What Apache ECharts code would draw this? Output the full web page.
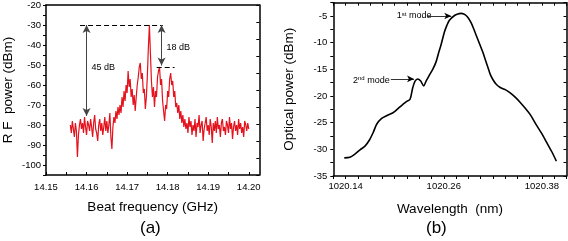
<!DOCTYPE html>
<html>
<head>
<meta charset="utf-8">
<script src="https://cdn.jsdelivr.net/npm/echarts@6/dist/echarts.min.js"></script>
<style>
  html, body { margin: 0; padding: 0; background: #fff; }
  #main { width: 568px; height: 241px; }
</style>
</head>
<body>
<div id="main"></div>
<script>
// (a) RF beat spectrum, one sample every 0.25 MHz starting at 14.156 GHz
const rfFreqStart = 14.156;
const rfFreqStep = 0.00025;
const rfPower = [
  -80, -84, -78, -82, -86, -79, -83, -96, -85, -80, -77,
  -82, -79, -84, -76, -81, -85, -78, -80, -83, -77,
  -81, -86, -79, -75, -82, -84, -88, -80, -77, -83,
  -79, -85, -81, -76, -83, -78, -84, -80, -74, -86,
  -92, -81, -76, -79, -73, -77, -71, -75, -70, -74,
  -66, -71, -63, -68, -60, -64, -53, -61, -57, -66,
  -62, -70, -65, -73, -66, -60, -56, -51, -49, -57,
  -54, -64, -62, -72, -66, -55, -41, -30, -44, -58,
  -66, -61, -71, -63, -66, -56, -53, -51, -60, -57,
  -68, -73, -78, -70, -72, -63, -66, -57, -54, -60,
  -58, -66, -63, -71, -69, -74, -70, -77, -73, -79, -75, -81,
  -77, -82, -79, -84, -76, -81, -78, -85, -80, -83,
  -77, -86, -79, -81, -75, -84, -80, -78, -88, -82,
  -79, -76, -83, -80, -85, -77, -81, -89, -79, -83,
  -78, -84, -76, -82, -80, -86, -79, -77, -83, -81,
  -85, -78, -80, -84, -76, -82, -79, -87, -81, -78,
  -83, -80, -85, -77, -82, -79, -84, -81, -86, -78,
  -80, -83, -79, -82
];
const rfFreqLabels = [14.15, 14.16, 14.17, 14.18, 14.19, 14.20];
const rfFreqTicks = [14.15, 14.155, 14.16, 14.165, 14.17, 14.175, 14.18, 14.185, 14.19, 14.195, 14.20];
const rfPowerLabels = [-100, -90, -80, -70, -60, -50, -40, -30, -20];
const rfPowerTicks = [-105, -100, -95, -90, -85, -80, -75, -70, -65, -60, -55, -50, -45, -40, -35, -30, -25, -20];

// (b) optical spectrum
const optWavelength = [
  1020.1384, 1020.1453, 1020.1514, 1020.1576, 1020.1637, 1020.169, 1020.1739, 1020.178, 1020.1841, 1020.1914,
  1020.1984, 1020.2037, 1020.2098, 1020.2147, 1020.2188, 1020.222, 1020.2249, 1020.2282, 1020.2318, 1020.2355,
  1020.2384, 1020.2424, 1020.2465, 1020.2506, 1020.2539, 1020.2567, 1020.2608, 1020.2637, 1020.2669, 1020.2731,
  1020.2771, 1020.2812, 1020.2845, 1020.2873, 1020.2906, 1020.2935, 1020.2963, 1020.2996, 1020.3037, 1020.3078,
  1020.311, 1020.3139, 1020.3167, 1020.32, 1020.3241, 1020.329, 1020.3351, 1020.3412, 1020.3473, 1020.3535,
  1020.3596, 1020.3657, 1020.3731, 1020.38, 1020.3861, 1020.3922, 1020.3976
];
const optPower = [
  -31.6, -31.5, -30.9, -30.1, -29.4, -28.3, -26.8, -25.3, -24.2, -23.6,
  -23.1, -22.4, -21.6, -21.0, -20.6, -18.5, -17.2, -16.8, -17.2, -18.1,
  -17.2, -16.1, -15.0, -13.6, -11.8, -10.4, -8.0, -6.8, -5.8, -4.9,
  -4.6, -4.5, -4.6, -4.9, -5.5, -6.3, -7.3, -8.6, -10.2, -11.8,
  -13.3, -14.6, -15.9, -16.9, -17.8, -18.4, -18.8, -19.4, -20.2, -21.2,
  -22.3, -23.5, -25.4, -27.1, -28.8, -30.5, -32.2
];
const optWaveLabels = [1020.14, 1020.26, 1020.38];
const optWaveTicks = [1020.125, 1020.14, 1020.155, 1020.17, 1020.185, 1020.2, 1020.215, 1020.23, 1020.245,
  1020.26, 1020.275, 1020.29, 1020.305, 1020.32, 1020.335, 1020.35, 1020.365, 1020.38, 1020.395, 1020.41];
const optPowerLabels = [-35, -30, -25, -20, -15, -10, -5];
const optPowerTicks = [-35, -32.5, -30, -27.5, -25, -22.5, -20, -17.5, -15, -12.5, -10, -7.5, -5, -2.5];

const FONT = 'Liberation Sans';
const rfData = rfPower.map(function (v, i) { return [rfFreqStart + i * rfFreqStep, v]; });
const optData = optWavelength.map(function (w, i) { return [w, optPower[i]]; });

const axisLine = { show: true, lineStyle: { color: '#000', width: 1.5 } };
const tickLabel = { fontSize: 9.5, color: '#000', fontFamily: FONT };
const nameStyle = { fontSize: 13.5, color: '#000', fontFamily: FONT };

// plain frame edge (top / right) with optional ticks
function frameAxis(gridIndex, position, tickValues, min, max) {
  return {
    type: 'value', gridIndex: gridIndex, position: position, min: min, max: max,
    axisLine: axisLine,
    axisTick: tickValues ? { show: true, inside: true, length: 3, customValues: tickValues, lineStyle: { color: '#000' } } : { show: false },
    axisLabel: { show: false },
    splitLine: { show: false }
  };
}

function textMark(x, y, text, rich) {
  return {
    coord: [x, y], symbol: 'circle', symbolSize: 1, itemStyle: { color: 'transparent' },
    label: { show: true, position: 'inside', formatter: text, fontSize: 9, color: '#000', fontFamily: FONT, rich: rich }
  };
}

const supRich = {
  n: { fontSize: 9, color: '#000', fontFamily: FONT },
  s: { fontSize: 6, color: '#000', fontFamily: FONT, verticalAlign: 'top' }
};

const chart = echarts.init(document.getElementById('main'));
chart.setOption({
  animation: false,
  grid: [
    { left: 42.7, top: 3.3, width: 216.6, height: 171.7 },
    { left: 333.3, top: 2.7, width: 233.2, height: 173.3 }
  ],
  xAxis: [
    {
      type: 'value', gridIndex: 0, position: 'bottom', min: 14.15, max: 14.2026,
      axisLine: axisLine,
      axisTick: { show: true, inside: true, length: 3, customValues: rfFreqTicks, lineStyle: { color: '#000' } },
      axisLabel: Object.assign({ customValues: rfFreqLabels, margin: 7, formatter: function (v) { return v.toFixed(2); } }, tickLabel),
      splitLine: { show: false },
      name: 'Beat frequency (GHz)', nameLocation: 'middle', nameGap: 25, nameTextStyle: nameStyle
    },
    frameAxis(0, 'top', null, 0, 1),
    {
      type: 'value', gridIndex: 1, position: 'bottom', min: 1020.125, max: 1020.41,
      axisLine: axisLine,
      axisTick: { show: true, inside: false, length: 3, customValues: optWaveTicks, lineStyle: { color: '#000' } },
      axisLabel: Object.assign({ customValues: optWaveLabels, margin: 5, formatter: function (v) { return v.toFixed(2); } }, tickLabel),
      splitLine: { show: false },
      name: 'Wavelength  (nm)', nameLocation: 'middle', nameGap: 26, nameTextStyle: nameStyle
    },
    frameAxis(1, 'top', optWaveTicks, 1020.125, 1020.41)
  ],
  yAxis: [
    {
      type: 'value', gridIndex: 0, position: 'left', min: -105, max: -20,
      axisLine: axisLine,
      axisTick: { show: true, inside: false, length: 3, customValues: rfPowerTicks, lineStyle: { color: '#000' } },
      axisLabel: Object.assign({ customValues: rfPowerLabels, margin: 5 }, tickLabel),
      splitLine: { show: false },
      name: 'R F  power (dBm)', nameLocation: 'middle', nameGap: 31, nameTextStyle: nameStyle
    },
    frameAxis(0, 'right', [0, 1, 2, 3, 4, 5, 6, 7, 8, 9, 10], 0, 10),
    {
      type: 'value', gridIndex: 1, position: 'left', min: -35, max: -2.5,
      axisLine: axisLine,
      axisTick: { show: true, inside: false, length: 3, customValues: optPowerTicks, lineStyle: { color: '#000' } },
      axisLabel: Object.assign({ customValues: optPowerLabels, margin: 6 }, tickLabel),
      splitLine: { show: false },
      name: 'Optical power (dBm)', nameLocation: 'middle', nameGap: 37, nameTextStyle: nameStyle
    },
    frameAxis(1, 'right', optPowerTicks, -35, -2.5)
  ],
  graphic: [
    { type: 'text', left: 140, top: 220, style: { text: '(a)', fontSize: 17, fill: '#000', fontFamily: FONT } },
    { type: 'text', left: 426, top: 220, style: { text: '(b)', fontSize: 17, fill: '#000', fontFamily: FONT } }
  ],
  series: [
    {
      type: 'line', xAxisIndex: 0, yAxisIndex: 0, data: rfData,
      showSymbol: false, lineStyle: { color: '#e3121c', width: 1.2 },
      markLine: {
        silent: true, symbol: ['none', 'none'], symbolSize: [6, 8],
        label: { show: false },
        lineStyle: { color: '#000', width: 1, type: [5, 3] },
        data: [
          [{ coord: [14.1584, -30] }, { coord: [14.1788, -30] }],
          [{ coord: [14.1773, -51.3] }, { coord: [14.1817, -51.3] }],
          [{ coord: [14.16, -30], symbol: 'arrow', lineStyle: { type: 'solid', color: '#444' } },
           { coord: [14.16, -75.5], symbol: 'arrow' }],
          [{ coord: [14.1785, -30], symbol: 'arrow', lineStyle: { type: 'solid', color: '#444' } },
           { coord: [14.1785, -50.3], symbol: 'arrow' }]
        ]
      },
      markPoint: {
        silent: true,
        data: [
          textMark(14.1641, -51.4, '45 dB'),
          textMark(14.1826, -41.1, '18 dB')
        ]
      }
    },
    {
      type: 'line', xAxisIndex: 2, yAxisIndex: 2, data: optData, smooth: 0.3,
      showSymbol: false, lineStyle: { color: '#000', width: 1.6 },
      markLine: {
        silent: true, symbol: ['none', 'arrow'], symbolSize: [5, 7],
        label: { show: false },
        lineStyle: { color: '#000', width: 0.8, type: 'solid' },
        data: [
          [{ coord: [1020.2402, -5] }, { coord: [1020.2692, -5] }],
          [{ coord: [1020.1953, -16.8] }, { coord: [1020.2237, -16.8] }]
        ]
      },
      markPoint: {
        silent: true,
        data: [
          textMark(1020.2237, -4.95, '{n|1}{s|st}{n| mode}', supRich),
          textMark(1020.1715, -17.0, '{n|2}{s|nd}{n| mode}', supRich)
        ]
      }
    }
  ]
});
</script>
</body>
</html>
